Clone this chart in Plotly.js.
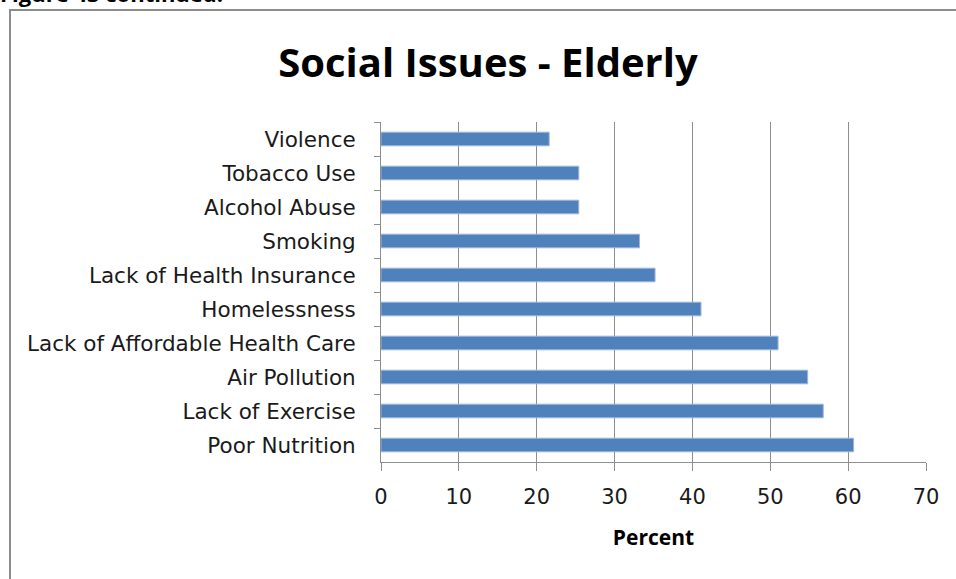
<!DOCTYPE html>
<html>
<head>
<meta charset="utf-8">
<script src="https://cdn.plot.ly/plotly-3.0.1.min.js"></script>
<style>html,body{margin:0;padding:0;background:#fff;}#chart{width:956px;height:579px;}</style>
</head>
<body>
<div id="chart"></div>
<script>
// Categories listed top to bottom as in the reference
const categories = [
  "Violence",
  "Tobacco Use",
  "Alcohol Abuse",
  "Smoking",
  "Lack of Health Insurance",
  "Homelessness",
  "Lack of Affordable Health Care",
  "Air Pollution",
  "Lack of Exercise",
  "Poor Nutrition"
];
const percentValues = [21.6, 25.4, 25.4, 33.2, 35.2, 41.1, 51.0, 54.8, 56.8, 60.7];
const xTickValues = [0, 10, 20, 30, 40, 50, 60, 70];
const chartTitle = "Social Issues - Elderly";
const xAxisTitle = "Percent";
const figureCaption = "Figure 43 continued:";

const W = 956, H = 579;
const L = 381, R = 30, T = 122, B = 117;
const plotW = W - L - R, plotH = H - T - B;
const px2x = p => (p - L) / plotW;
const py2y = p => (H - B - p) / plotH;

const FONT = "'Open Sans', Lato, sans-serif";
const TICKFONT = "'DejaVu Sans', 'Open Sans', sans-serif";

const trace = {
  type: "bar",
  orientation: "h",
  x: percentValues,
  y: categories,
  marker: {color: "#4F81BD", line: {color: "#9DB5DA", width: 1}},
  width: 0.4,
  hoverinfo: "x+y"
};

const layout = {
  width: W, height: H,
  margin: {l: L, r: R, t: T, b: B, pad: 0},
  paper_bgcolor: "#ffffff",
  plot_bgcolor: "#ffffff",
  showlegend: false,
  font: {family: FONT, color: "#000000", size: 20},
  title: {
    text: "<b>" + chartTitle + "</b>",
    font: {family: FONT, size: 40, color: "#000000"},
    x: 488 / W, xanchor: "center",
    y: 1 - 63 / H, yanchor: "middle"
  },
  xaxis: {
    range: [0, 70],
    tickvals: xTickValues,
    ticktext: xTickValues.map(String),
    showgrid: true,
    gridcolor: "#8E8E8E",
    gridwidth: 1,
    zeroline: false,
    showline: true,
    linecolor: "#8E8E8E",
    linewidth: 1,
    ticks: "outside",
    ticklen: 8,
    tickcolor: "#8E8E8E",
    ticklabelstandoff: 8,
    tickfont: {family: TICKFONT, size: 21, color: "#1a1a1a"},
    title: {text: "<b>" + xAxisTitle + "</b>", font: {family: FONT, size: 21, color: "#000000"}, standoff: 22},
    fixedrange: true
  },
  yaxis: {
    type: "category",
    autorange: "reversed",
    showgrid: false,
    zeroline: false,
    showline: true,
    linecolor: "#8E8E8E",
    linewidth: 1,
    ticks: "outside",
    tickson: "boundaries",
    ticklen: 6,
    tickcolor: "#8E8E8E",
    ticklabelstandoff: 20,
    tickfont: {family: TICKFONT, size: 21.5, color: "#1a1a1a"},
    fixedrange: true
  },
  shapes: [
    {type: "path", xref: "paper", yref: "paper",
     path: "M " + px2x(10) + " " + py2y(590) + " L " + px2x(10) + " " + py2y(10) + " L " + px2x(970) + " " + py2y(10),
     line: {color: "#8C8C8C", width: 2}}
  ],
  annotations: [
    {text: "<b>" + figureCaption + "</b>", xref: "paper", yref: "paper",
     x: px2x(-2), y: py2y(-7), xanchor: "left", yanchor: "middle",
     showarrow: false, font: {family: FONT, size: 22, color: "#000000"}}
  ]
};

Plotly.newPlot("chart", [trace], layout, {displayModeBar: false, staticPlot: true});
</script>
</body>
</html>
